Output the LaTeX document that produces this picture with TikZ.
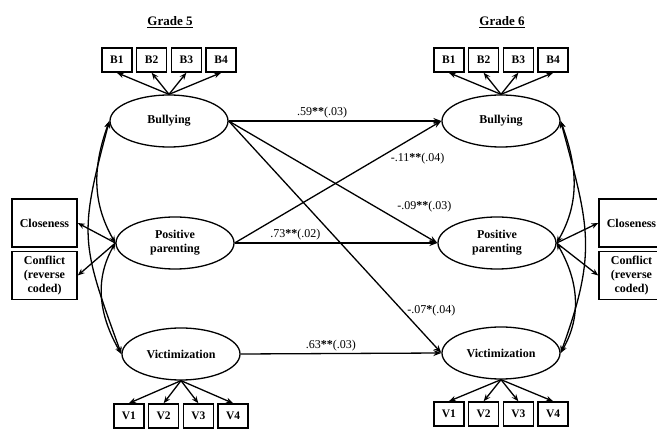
\documentclass[tikz,border=0pt]{standalone}
\usepackage{fontspec}
\setmainfont{Liberation Serif}
\usetikzlibrary{shapes.geometric,arrows.meta}
\tikzset{
	latent node/.style={ellipse, draw, line width=1.3pt, minimum width=118pt, minimum height=52pt, inner sep=0pt, align=center, font=\fontsize{12}{14}\selectfont\bfseries},
	item node/.style={rectangle, draw, line width=1.5pt, minimum width=30pt, minimum height=24pt, inner sep=0pt, font=\fontsize{11.5}{14}\selectfont\bfseries},
	side node/.style={rectangle, draw, line width=1.5pt, minimum width=65pt, minimum height=48pt, inner sep=0pt, align=center, font=\fontsize{12}{14}\selectfont\bfseries},
	coef node/.style={font=\fontsize{12}{14}\selectfont, inner sep=2pt},
	title node/.style={font=\fontsize{13}{15}\selectfont\bfseries},
	path arrow/.style={-{Stealth[length=8pt,width=6pt]}, line width=1.3pt},
	load arrow/.style={-{Stealth[length=7pt,width=5.5pt]}, line width=1.3pt},
	cov arrow/.style={{Stealth[length=7pt,width=5.5pt]}-{Stealth[length=7pt,width=5.5pt]}, line width=1.3pt},
	up items/.style={grow'=up, level distance=61pt, sibling distance=34.7pt, parent anchor=north, child anchor=south, edge from parent/.style={draw, load arrow}},
	down items/.style={grow=down, level distance=62pt, sibling distance=34.7pt, parent anchor=south, child anchor=north, edge from parent/.style={draw, load arrow}},
}

\begin{document}
\begin{tikzpicture}[x=1pt, y=1pt]
\useasboundingbox (0,0) rectangle (657,429);

  \node[title node] (g5) at (170,407) {\underline{Grade 5}};
  \node[title node] (g6) at (502,407) {\underline{Grade 6}};

  % grade 5
  \node[latent node] (bul5) at (169,308) {Bullying}
    [up items, xshift=3pt]
    child{node[item node]{B1}}
    child{node[item node]{B2}}
    child{node[item node]{B3}}
    child{node[item node]{B4}}
  ;
  \node[latent node] (par5) at (175,186) {Positive\\parenting};
  \node[latent node] (vic5) at (181,75) {Victimization}
    [down items, xshift=3pt]
    child{node[item node]{V1}}
    child{node[item node]{V2}}
    child{node[item node]{V3}}
    child{node[item node]{V4}}
  ;
  \node[side node] (clo5) at (44.5,206) {Closeness};
  \node[side node] (con5) at (44.5,153.5) {Conflict\\(reverse\\coded)};

  % grade 6
  \node[latent node] (bul6) at (501,308) {Bullying}
    [up items, xshift=3pt]
    child{node[item node]{B1}}
    child{node[item node]{B2}}
    child{node[item node]{B3}}
    child{node[item node]{B4}}
  ;
  \node[latent node] (par6) at (497,186) {Positive\\parenting};
  \node[latent node] (vic6) at (501,76) {Victimization}
    [down items, level distance=61pt, xshift=8pt]
    child{node[item node]{V1}}
    child{node[item node]{V2}}
    child{node[item node]{V3}}
    child{node[item node]{V4}}
  ;
  \node[side node] (clo6) at (631.5,206) {Closeness};
  \node[side node] (con6) at (631.5,153.5) {Conflict\\(reverse\\coded)};

  % indicators of parenting
  \draw[load arrow] (par5.west) -- (clo5.east);
  \draw[load arrow] (par5.west) -- (con5.east);
  \draw[load arrow] (par6.east) -- (clo6.west);
  \draw[load arrow] (par6.east) -- (con6.west);

  % correlations
  \draw[cov arrow] (bul5.west) to[out=255, in=110, looseness=1.3] (vic5.west);
  \draw[cov arrow] (bul5.west) to[out=250, in=120] (par5.west);
  \draw[cov arrow] (par5.west) to[out=240, in=120] (vic5.west);
  \draw[cov arrow] (bul6.east) to[out=285, in=70, looseness=1.2] (vic6.east);
  \draw[cov arrow] (bul6.east) to[out=290, in=60] (par6.east);
  \draw[cov arrow] (par6.east) to[out=300, in=60] (vic6.east);

  % paths
  \draw[path arrow] (bul5.east) -- node[coef node, pos=0.44, above] {.59\textbf{**}(.03)} (bul6.west);
  \draw[path arrow] (bul5.east) -- node[coef node, pos=0.938, yshift=29pt] {-.09\textbf{**}(.03)} (par6.west);
  \draw[path arrow] (bul5.east) -- node[coef node, pos=0.953, yshift=31pt] {-.07\textbf{*}(.04)} (vic6.west);
  \draw[path arrow] (par5.east) -- node[coef node, pos=0.885, yshift=-24pt] {-.11\textbf{**}(.04)} (bul6.west);
  \draw[path arrow] (par5.east) -- node[coef node, pos=0.3, above] {.73\textbf{**}(.02)} (par6.west);
  \draw[path arrow] (vic5.east) -- node[coef node, pos=0.45, above] {.63\textbf{**}(.03)} (vic6.west);

\end{tikzpicture}
\end{document}
